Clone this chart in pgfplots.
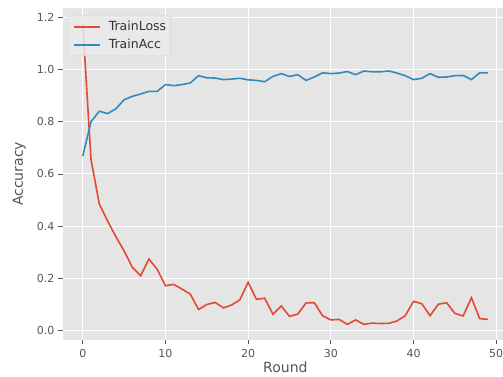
\documentclass[border=0pt]{standalone}
\usepackage{fontspec}
\setmainfont{DejaVu Sans}
\usepackage{pgfplots}
\pgfplotsset{compat=1.18}
\definecolor{bggray}{HTML}{E5E5E5}
\definecolor{lossred}{HTML}{E24A33}
\definecolor{accblue}{HTML}{348ABD}
\definecolor{ticktext}{HTML}{555555}
\definecolor{legfill}{HTML}{EBEBEB}
\definecolor{legedge}{HTML}{D4D4D4}
\begin{document}
\begin{tikzpicture}
\useasboundingbox (0pt,0pt) rectangle (503pt,376pt);
\begin{axis}[
  at={(62.5pt,36.5pt)}, anchor=south west,
  scale only axis, width=445.7pt, height=331.2pt,
  xmin=-2.45, xmax=51.45, ymin=-0.034, ymax=1.234,
  axis background/.style={fill=bggray},
  axis line style={draw=none},
  grid=major, major grid style={white, line width=1pt},
  tick pos=left, tick align=outside,
  major tick length=4.5pt,
  every tick/.style={ticktext, line width=0.8pt},
  xtick={0,10,20,30,40,50},
  ytick={0,0.2,0.4,0.6,0.8,1.0,1.2},
  /pgf/number format/assume math mode=true,
  yticklabel style={/pgf/number format/fixed, /pgf/number format/fixed zerofill, /pgf/number format/precision=1},
  tick label style={font=\fontsize{11}{13}\selectfont, text=ticktext},
  xticklabel style={yshift=-2pt},
  xlabel={Round}, ylabel={Accuracy},
  label style={font=\fontsize{14}{16}\selectfont, text=ticktext},
  xlabel style={at={([yshift=-22.5pt]axis description cs:0.5,0)}, anchor=north, inner sep=0pt},
  ylabel style={at={([xshift=-36.5pt]axis description cs:0,0.5)}, anchor=south, inner sep=0pt, rotate=0},
  legend cell align=left,
  legend image code/.code={\draw[#1, line width=1.6pt] (0pt,0pt) -- (26pt,0pt);},
  legend style={at={([xshift=5.8pt,yshift=-7.4pt]axis description cs:0,1)}, anchor=north west,
    font=\fontsize{12.5}{15}\selectfont, text=black!80,
    fill=legfill, fill opacity=0.8, text opacity=1, draw=legedge,
    rounded corners=2pt, inner xsep=4.4pt, inner ysep=5pt, row sep=6pt,
    nodes={inner sep=0pt, text height=9.5pt, text depth=2.5pt},
    /tikz/every odd column/.append style={column sep=8.3pt},
    /tikz/every even column/.append style={column sep=0pt}},
]
\addplot[lossred, line width=1.6pt] coordinates {
(0,1.175) (1,0.655) (2,0.485) (3,0.42) (4,0.36) (5,0.305) (6,0.242) (7,0.21) (8,0.274) (9,0.235)
(10,0.172) (11,0.177) (12,0.159) (13,0.14) (14,0.081) (15,0.10) (16,0.108) (17,0.087) (18,0.098) (19,0.118)
(20,0.185) (21,0.12) (22,0.124) (23,0.063) (24,0.094) (25,0.055) (26,0.063) (27,0.106) (28,0.107) (29,0.057)
(30,0.041) (31,0.043) (32,0.024) (33,0.041) (34,0.024) (35,0.029) (36,0.027) (37,0.028) (38,0.037) (39,0.057)
(40,0.112) (41,0.103) (42,0.057) (43,0.101) (44,0.107) (45,0.066) (46,0.056) (47,0.126) (48,0.046) (49,0.043)
};
\addlegendentry{TrainLoss}
\addplot[accblue, line width=1.6pt] coordinates {
(0,0.668) (1,0.80) (2,0.84) (3,0.831) (4,0.849) (5,0.884) (6,0.897) (7,0.906) (8,0.916) (9,0.916)
(10,0.942) (11,0.938) (12,0.942) (13,0.948) (14,0.976) (15,0.968) (16,0.967) (17,0.961) (18,0.963) (19,0.966)
(20,0.960) (21,0.958) (22,0.953) (23,0.973) (24,0.984) (25,0.973) (26,0.980) (27,0.958) (28,0.971) (29,0.987)
(30,0.984) (31,0.986) (32,0.992) (33,0.980) (34,0.994) (35,0.991) (36,0.991) (37,0.994) (38,0.986) (39,0.976)
(40,0.961) (41,0.966) (42,0.984) (43,0.970) (44,0.971) (45,0.976) (46,0.977) (47,0.961) (48,0.987) (49,0.987)
};
\addlegendentry{TrainAcc}
\end{axis}
\end{tikzpicture}
\end{document}
